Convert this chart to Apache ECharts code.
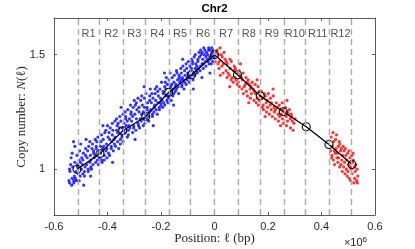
<!DOCTYPE html>
<html><head><meta charset="utf-8">
<script src="https://cdn.jsdelivr.net/npm/echarts@6/dist/echarts.min.js"></script>
<style>html,body{margin:0;padding:0;background:#fff}#c{width:415px;height:249px}</style>
</head><body><div id="c"></div>
<script>
const chartTitle = 'Chr2';
const regionLabels = ['R1','R2','R3','R4','R5','R6','R7','R8','R9','R10','R11','R12'];
const breakpoints = [-0.514,-0.428,-0.343,-0.257,-0.171,-0.086,0,0.086,0.171,0.257,0.343,0.428,0.514];
const breakpointCopy = [1.0,1.068,1.168,1.230,1.336,1.412,1.5,1.412,1.320,1.251,1.185,1.108,1.020];
const xTicks = [-0.6,-0.4,-0.2,0,0.2,0.4,0.6];
const yTicks = [1, 1.5];
const xLabel = 'Position: ℓ (bp)';
const yLabel = 'Copy number: {i|N}(ℓ)';

const bluePoints = [
[-0.544,0.95],[-0.542,1.00],
[-0.542,0.94],[-0.538,1.02],[-0.540,0.99],
[-0.532,0.96],[-0.536,1.05],[-0.534,0.93],
[-0.530,1.01],[-0.526,0.95],[-0.532,1.07],
[-0.524,0.97],[-0.522,1.03],[-0.526,0.94],
[-0.522,1.10],[-0.518,0.99],[-0.520,0.96],
[-0.512,1.02],[-0.516,0.95],[-0.514,1.06],
[-0.510,0.98],[-0.506,1.04],[-0.512,1.01],
[-0.504,1.08],[-0.502,0.97],[-0.506,0.95],
[-0.502,1.03],[-0.498,1.00],[-0.500,1.11],
[-0.492,0.98],[-0.496,1.05],[-0.494,1.02],
[-0.490,1.07],[-0.486,0.99],[-0.492,1.04],
[-0.484,1.01],[-0.482,1.09],[-0.486,0.97],
[-0.482,1.06],[-0.478,1.02],[-0.480,1.13],
[-0.472,1.00],[-0.476,1.05],[-0.474,1.08],
[-0.470,1.10],[-0.466,1.03],[-0.472,0.99],
[-0.464,1.06],[-0.462,1.01],[-0.466,1.12],
[-0.462,1.04],[-0.458,1.09],[-0.460,1.00],
[-0.452,1.07],[-0.456,1.11],[-0.454,1.02],
[-0.450,1.05],[-0.446,1.13],[-0.452,1.08],
[-0.444,1.03],[-0.442,1.10],[-0.446,1.06],
[-0.442,1.09],[-0.438,1.04],[-0.440,1.12],
[-0.432,1.07],[-0.436,1.14],[-0.434,1.02],
[-0.430,1.05],[-0.426,1.10],[-0.432,1.08],
[-0.424,1.12],[-0.422,1.04],[-0.426,1.07],
[-0.422,1.15],[-0.418,1.09],[-0.420,1.03],
[-0.412,1.06],[-0.416,1.13],[-0.414,1.10],
[-0.410,1.16],[-0.406,1.08],[-0.412,1.04],
[-0.404,1.11],[-0.402,1.05],[-0.406,1.17],
[-0.402,1.09],[-0.398,1.14],[-0.400,1.19],
[-0.392,1.13],[-0.396,1.07],[-0.394,1.16],
[-0.390,1.18],[-0.386,1.10],[-0.392,1.06],
[-0.384,1.12],[-0.382,1.20],[-0.386,1.09],
[-0.382,1.15],[-0.378,1.08],[-0.380,1.17],
[-0.372,1.21],[-0.376,1.13],[-0.374,1.11],
[-0.370,1.10],[-0.366,1.17],[-0.372,1.14],
[-0.364,1.19],[-0.362,1.12],[-0.366,1.22],
[-0.362,1.16],[-0.358,1.09],[-0.360,1.20],
[-0.352,1.13],[-0.356,1.18],[-0.354,1.23],
[-0.350,1.21],[-0.346,1.15],[-0.352,1.11],
[-0.344,1.18],[-0.342,1.24],[-0.346,1.14],
[-0.342,1.12],[-0.338,1.20],[-0.340,1.17],
[-0.332,1.22],[-0.336,1.16],[-0.334,1.25],
[-0.330,1.19],[-0.326,1.14],[-0.332,1.23],
[-0.324,1.26],[-0.322,1.17],[-0.326,1.21],
[-0.322,1.15],[-0.318,1.22],[-0.320,1.19],
[-0.312,1.24],[-0.316,1.18],[-0.314,1.28],
[-0.310,1.21],[-0.306,1.16],[-0.312,1.25],
[-0.304,1.27],[-0.302,1.19],[-0.306,1.23],
[-0.302,1.18],[-0.298,1.24],[-0.300,1.30],
[-0.292,1.22],[-0.296,1.28],[-0.294,1.17],
[-0.290,1.26],[-0.286,1.20],[-0.292,1.29],
[-0.284,1.19],[-0.282,1.25],[-0.286,1.31],
[-0.282,1.27],[-0.278,1.22],[-0.280,1.18],
[-0.272,1.24],[-0.276,1.30],[-0.274,1.21],
[-0.270,1.28],[-0.266,1.19],[-0.272,1.32],
[-0.264,1.22],[-0.262,1.27],[-0.266,1.25],
[-0.262,1.31],[-0.258,1.24],[-0.260,1.20],
[-0.252,1.26],[-0.256,1.33],[-0.254,1.22],
[-0.250,1.29],[-0.246,1.23],[-0.252,1.27],
[-0.244,1.25],[-0.242,1.32],[-0.246,1.21],
[-0.242,1.30],[-0.238,1.26],[-0.240,1.35],
[-0.232,1.24],[-0.236,1.29],[-0.234,1.33],
[-0.230,1.31],[-0.226,1.27],[-0.232,1.23],
[-0.224,1.28],[-0.222,1.35],[-0.226,1.25],
[-0.222,1.33],[-0.218,1.26],[-0.220,1.30],
[-0.212,1.29],[-0.216,1.36],[-0.214,1.24],
[-0.210,1.32],[-0.206,1.27],[-0.212,1.34],
[-0.204,1.35],[-0.202,1.29],[-0.206,1.26],
[-0.202,1.31],[-0.198,1.38],[-0.200,1.28],
[-0.192,1.34],[-0.196,1.30],[-0.194,1.27],
[-0.190,1.29],[-0.186,1.36],[-0.192,1.33],
[-0.184,1.38],[-0.182,1.32],[-0.186,1.28],
[-0.182,1.35],[-0.178,1.30],[-0.180,1.40],
[-0.172,1.32],[-0.176,1.37],[-0.174,1.29],
[-0.170,1.39],[-0.166,1.33],[-0.172,1.31],
[-0.164,1.36],[-0.162,1.30],[-0.166,1.42],
[-0.162,1.34],[-0.158,1.40],[-0.160,1.37],
[-0.152,1.38],[-0.156,1.32],[-0.154,1.35],
[-0.150,1.41],[-0.146,1.36],[-0.152,1.33],
[-0.144,1.37],[-0.142,1.43],[-0.146,1.34],
[-0.142,1.35],[-0.138,1.39],[-0.140,1.42],
[-0.132,1.40],[-0.136,1.36],[-0.134,1.33],
[-0.130,1.38],[-0.126,1.44],[-0.132,1.41],
[-0.124,1.42],[-0.122,1.36],[-0.126,1.39],
[-0.122,1.37],[-0.118,1.45],[-0.120,1.40],
[-0.112,1.43],[-0.116,1.39],[-0.114,1.35],
[-0.110,1.41],[-0.106,1.46],[-0.112,1.38],
[-0.104,1.44],[-0.102,1.40],[-0.106,1.37],
[-0.102,1.39],[-0.098,1.47],[-0.100,1.42],
[-0.092,1.45],[-0.096,1.41],[-0.094,1.38],
[-0.090,1.43],[-0.086,1.48],[-0.092,1.40],
[-0.084,1.41],[-0.082,1.46],[-0.086,1.44],
[-0.082,1.47],[-0.078,1.42],[-0.080,1.39],
[-0.072,1.44],[-0.076,1.49],[-0.074,1.41],
[-0.070,1.46],[-0.066,1.43],[-0.072,1.50],
[-0.064,1.42],[-0.062,1.48],[-0.066,1.45],
[-0.062,1.47],[-0.058,1.51],[-0.060,1.44],
[-0.052,1.45],[-0.056,1.49],[-0.054,1.43],
[-0.050,1.50],[-0.046,1.46],[-0.052,1.52],
[-0.044,1.48],[-0.042,1.44],[-0.046,1.51],
[-0.042,1.46],[-0.038,1.50],[-0.040,1.53],
[-0.032,1.49],[-0.036,1.52],[-0.034,1.47],
[-0.030,1.51],[-0.026,1.48],[-0.032,1.45],
[-0.024,1.47],[-0.022,1.53],[-0.026,1.50],
[-0.022,1.52],[-0.018,1.49],[-0.020,1.46],
[-0.012,1.50],[-0.016,1.52],[-0.014,1.48],
[-0.010,1.53],[-0.006,1.51],[-0.012,1.46],
[-0.004,1.52],[-0.002,1.49],[-0.006,1.47],
[-0.527,1.12],[-0.489,0.93],[-0.463,0.97],[-0.417,1.19],[-0.381,1.03],
[-0.349,1.27],[-0.297,1.13],[-0.263,1.36],[-0.229,1.19],[-0.187,1.42],
[-0.153,1.28],[-0.119,1.48],[-0.079,1.35],[-0.047,1.40],[-0.017,1.42]
];

const redPoints = [
[0.006,1.51],[0.003,1.47],[0.013,1.46],[0.010,1.52],[0.014,1.50],[0.017,1.44],
[0.021,1.53],[0.018,1.47],[0.028,1.45],[0.025,1.50],[0.029,1.49],[0.032,1.42],
[0.036,1.51],[0.033,1.46],[0.043,1.43],[0.040,1.48],[0.044,1.47],[0.047,1.40],
[0.051,1.42],[0.048,1.46],[0.058,1.48],[0.055,1.41],[0.059,1.44],[0.062,1.39],
[0.066,1.40],[0.063,1.47],[0.073,1.43],[0.070,1.38],[0.074,1.45],[0.077,1.40],
[0.081,1.39],[0.078,1.44],[0.088,1.42],[0.085,1.37],[0.089,1.38],[0.092,1.43],
[0.096,1.41],[0.093,1.36],[0.103,1.35],[0.100,1.40],[0.104,1.39],[0.107,1.42],
[0.111,1.36],[0.108,1.33],[0.118,1.40],[0.115,1.37],[0.119,1.34],[0.122,1.38],
[0.126,1.39],[0.123,1.32],[0.133,1.35],[0.130,1.37],[0.134,1.31],[0.137,1.36],
[0.141,1.38],[0.138,1.33],[0.148,1.30],[0.145,1.35],[0.149,1.34],[0.152,1.37],
[0.156,1.29],[0.153,1.33],[0.163,1.36],[0.160,1.31],[0.164,1.28],[0.167,1.34],
[0.171,1.32],[0.168,1.30],[0.178,1.27],[0.175,1.34],[0.179,1.31],[0.182,1.28],
[0.186,1.33],[0.183,1.26],[0.193,1.29],[0.190,1.32],[0.194,1.25],[0.197,1.30],
[0.201,1.33],[0.198,1.27],[0.208,1.28],[0.205,1.24],[0.209,1.31],[0.212,1.26],
[0.216,1.23],[0.213,1.29],[0.223,1.27],[0.220,1.32],[0.224,1.25],[0.227,1.22],
[0.231,1.29],[0.228,1.26],[0.238,1.24],[0.235,1.27],[0.239,1.21],[0.242,1.28],
[0.246,1.26],[0.243,1.23],[0.253,1.29],[0.250,1.24],[0.254,1.22],[0.257,1.26],
[0.261,1.25],[0.258,1.20],[0.268,1.23],[0.265,1.27],[0.269,1.19],[0.272,1.25],
[0.276,1.24],[0.273,1.21],[0.283,1.22],[0.280,1.26],[0.284,1.18],[0.287,1.24],
[0.291,1.21],[0.288,1.23],[0.297,1.20],[0.294,1.17],[0.301,1.22],
[0.022,1.41],[0.057,1.36],[0.097,1.46],[0.128,1.29],[0.159,1.39],[0.189,1.23],
[0.219,1.35],[0.247,1.19],[0.271,1.30],
[0.436,1.14],[0.434,1.08],[0.438,1.05],[0.441,1.10],[0.443,1.16],[0.439,1.06],
[0.446,1.12],[0.444,1.04],[0.448,1.08],[0.451,1.07],[0.453,1.13],[0.449,1.02],
[0.456,1.15],[0.454,1.09],[0.458,1.05],[0.461,1.03],[0.463,1.10],[0.459,1.07],
[0.466,1.12],[0.464,1.05],[0.468,1.01],[0.471,1.08],[0.473,1.02],[0.469,1.11],
[0.476,1.04],[0.474,1.09],[0.478,0.99],[0.481,1.10],[0.483,1.01],[0.479,1.06],
[0.486,1.03],[0.484,1.08],[0.488,0.98],[0.491,1.06],[0.493,1.00],[0.489,1.09],
[0.496,0.97],[0.494,1.04],[0.498,1.07],[0.501,1.02],[0.503,1.08],[0.499,0.99],
[0.506,1.05],[0.504,0.96],[0.508,1.01],[0.511,1.00],[0.513,1.06],[0.509,0.95],
[0.516,1.03],[0.514,0.98],[0.518,1.07],[0.521,0.94],[0.523,1.01],[0.519,1.04],
[0.526,0.99],[0.524,0.96],[0.528,1.02],[0.531,0.95],[0.533,1.00],[0.536,0.97],[0.534,0.94]
];

const axisColor = '#5a5a5a';
const txtColor = '#262626';
const sans = '"Liberation Sans", Arial, sans-serif';
const serif = '"Liberation Serif", "DejaVu Serif", serif';

const chart = echarts.init(document.getElementById('c'), null, {renderer: 'canvas'});
const fmt = v => { const r = Math.round(v * 10) / 10; return r === 0 ? '0' : String(r); };

const regionData = regionLabels.map((r, i) => ({
  value: [(breakpoints[i] + breakpoints[i + 1]) / 2, 1.59], name: r
}));

const option = {
  animation: false,
  backgroundColor: '#fff',
  grid: {left: 54, right: 40, top: 18, bottom: 34, show: false},
  xAxis: [{
    type: 'value', min: -0.6, max: 0.6, interval: 0.2, position: 'bottom',
    axisLine: {show: true, onZero: false, lineStyle: {color: axisColor, width: 1}},
    axisTick: {show: true, inside: true, length: 3, lineStyle: {color: axisColor}},
    axisLabel: {formatter: fmt, color: txtColor, fontSize: 11, fontFamily: sans, margin: 6},
    splitLine: {show: false}
  }, {
    type: 'value', min: -0.6, max: 0.6, interval: 0.2, position: 'top',
    axisLine: {show: true, onZero: false, lineStyle: {color: axisColor, width: 1}},
    axisTick: {show: true, inside: true, length: 3, lineStyle: {color: axisColor}},
    axisLabel: {show: false}, splitLine: {show: false}
  }],
  yAxis: [{
    type: 'value', min: 0.8, max: 1.66, position: 'left',
    axisLine: {show: true, onZero: false, lineStyle: {color: axisColor, width: 1}},
    axisTick: {show: true, inside: true, length: 3, customValues: yTicks, lineStyle: {color: axisColor}},
    axisLabel: {customValues: yTicks, formatter: fmt, color: txtColor, fontSize: 11, fontFamily: sans, margin: 9},
    splitLine: {show: false}
  }, {
    type: 'value', min: 0.8, max: 1.66, position: 'right',
    axisLine: {show: true, onZero: false, lineStyle: {color: axisColor, width: 1}},
    axisTick: {show: true, inside: true, length: 3, customValues: yTicks, lineStyle: {color: axisColor}},
    axisLabel: {show: false}, splitLine: {show: false}
  }],
  series: [
    {
      type: 'line', data: [], silent: true, z: 1,
      markLine: {
        silent: true, symbol: ['none', 'none'], animation: false,
        label: {show: false},
        lineStyle: {type: [6, 4], color: '#a8a8a8', width: 1.4},
        data: breakpoints.map(x => ({xAxis: x}))
      }
    },
    {
      type: 'scatter', data: bluePoints, symbol: 'circle', symbolSize: 3.2, z: 2, silent: true,
      itemStyle: {color: '#0000ff'}
    },
    {
      type: 'scatter', data: redPoints, symbol: 'circle', symbolSize: 3.2, z: 2, silent: true,
      itemStyle: {color: '#ff0000'}
    },
    {
      type: 'line', data: breakpoints.map((x, i) => [x, breakpointCopy[i]]), z: 3, silent: true,
      lineStyle: {color: '#000', width: 1.3},
      symbol: 'circle', symbolSize: 8, showAllSymbol: true,
      itemStyle: {color: 'rgba(0,0,0,0)', borderColor: '#000', borderWidth: 1.1}
    },
    {
      type: 'scatter', data: regionData, symbolSize: 1, z: 4, silent: true,
      itemStyle: {color: 'rgba(0,0,0,0)'},
      label: {show: true, position: 'inside', formatter: '{b}', color: txtColor, fontSize: 11, fontFamily: sans}
    }
  ],
  graphic: [
    {type: 'text', x: 214.5, y: 9, z: 10, style: {text: chartTitle, textAlign: 'center', textVerticalAlign: 'middle',
      font: 'bold 11.5px ' + sans, fill: '#000'}},
    {type: 'text', x: 214.5, y: 239, z: 10, style: {text: xLabel, textAlign: 'center', textVerticalAlign: 'middle',
      font: '13px ' + serif, fill: txtColor}},
    {type: 'text', x: 22, y: 117, rotation: Math.PI / 2, z: 10, style: {
      text: yLabel, textAlign: 'center', textVerticalAlign: 'middle',
      font: '13px ' + serif, fill: txtColor,
      rich: {i: {fontStyle: 'italic', fontFamily: serif, fontSize: 13, fill: txtColor}}}},
    {type: 'text', x: 367, y: 243, z: 10, style: {
      text: '{a|×10}{b|6}', textAlign: 'right', textVerticalAlign: 'middle',
      rich: {a: {fontSize: 11, fontFamily: sans, fill: txtColor}, b: {fontSize: 8, fontFamily: sans, fill: txtColor, padding: [0, 0, 7, 0]}}}}
  ]
};
chart.setOption(option);
</script>
</body></html>
